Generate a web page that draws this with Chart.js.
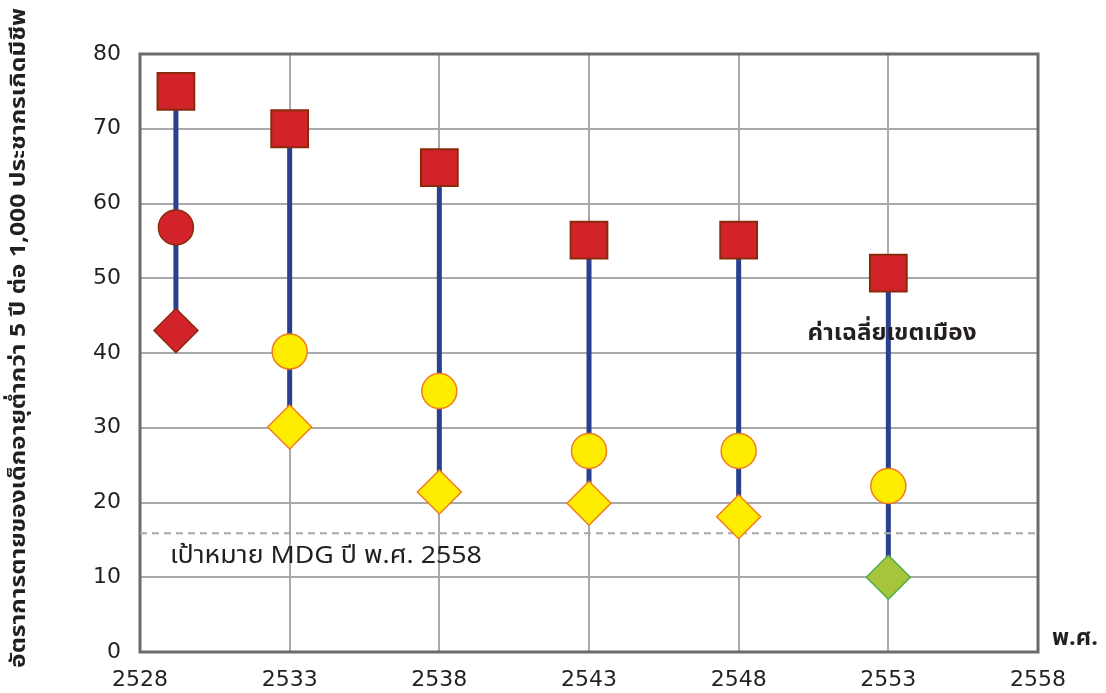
<!DOCTYPE html>
<html>
<head>
<meta charset="utf-8">
<script src="https://cdn.jsdelivr.net/npm/chart.js@4.4.1/dist/chart.umd.min.js"></script>
<style>
html,body{margin:0;padding:0;background:#fff;}
#wrap{width:1106px;height:693px;}
</style>
</head>
<body>
<div id="wrap"><canvas id="c" width="1106" height="693"></canvas></div>
<script>
// ---- data ----
const years = [2529.2, 2533, 2538, 2543, 2548, 2553];
const squareValues = [75, 70, 64.8, 55.1, 55.1, 50.7];
const circleValues = [56.8, 40.2, 34.9, 26.9, 26.9, 22.2];
const diamondValues = [43, 30.1, 21.4, 19.9, 18.1, 10];
const circleColors = ['red','yellow','yellow','yellow','yellow','yellow'];
const diamondColors = ['red','yellow','yellow','yellow','yellow','green'];
const mdgTarget = 15.9;
const xTicks = [2528, 2533, 2538, 2543, 2548, 2553, 2558];
const yTitle = 'อัตราการตายของเด็กอายุต่ำกว่า 5 ปี ต่อ 1,000 ประชากรเกิดมีชีพ';
const mdgLabel = 'เป้าหมาย MDG ปี พ.ศ. 2558';
const urbanLabel = 'ค่าเฉลี่ยเขตเมือง';
const xUnitLabel = 'พ.ศ.';

const palette = {
  red: {fill:'#D2232A', stroke:'#8A2A0C'},
  yellow: {fill:'#FFED00', stroke:'#F07D1E'},
  green: {fill:'#A6C43C', stroke:'#4DAE48'}
};

const pts = (vals) => years.map((x,i)=>({x:x, y:vals[i]}));
const stems = [];
years.forEach((x,i)=>{
  stems.push({x:x, y:squareValues[i]});
  stems.push({x:x, y:diamondValues[i]});
  stems.push({x:x, y:null});
});

const THAI = '"Noto Sans Thai", "Noto Sans", "DejaVu Sans", sans-serif';

// draw text stretched horizontally to a target width
function fitText(ctx, text, font, x, y, width, align){
  ctx.save();
  ctx.font = font;
  const w = ctx.measureText(text).width;
  const k = width / w;
  ctx.translate(x, y);
  ctx.scale(k, 1);
  ctx.textAlign = align || 'left';
  ctx.fillText(text, 0, 0);
  ctx.restore();
}

const annot = {
  id:'annot',
  beforeDatasetsDraw(chart){
    const {ctx, chartArea:a} = chart;
    ctx.save();
    ctx.strokeStyle = '#6B6B6B';
    ctx.lineWidth = 3;
    ctx.strokeRect(a.left, a.top, a.right - a.left, a.bottom - a.top);
    ctx.restore();
  },
  afterDraw(chart){
    const {ctx, scales:{x,y}} = chart;
    ctx.save();
    ctx.fillStyle = '#231F20';
    ctx.textBaseline = 'middle';
    fitText(ctx, mdgLabel, '24px ' + THAI, x.getPixelForValue(2529), y.getPixelForValue(12.6), 312);
    fitText(ctx, urbanLabel, 'bold 23px ' + THAI, x.getPixelForValue(2550.3), y.getPixelForValue(42.3), 169);
    fitText(ctx, xUnitLabel, 'bold 23px ' + THAI, x.right + 14, y.getPixelForValue(1.6), 46);
    // y title (rotated)
    ctx.save();
    ctx.translate(21, 338);
    ctx.rotate(-Math.PI/2);
    fitText(ctx, yTitle, 'bold 21px ' + THAI, 0, 0, 660, 'center');
    ctx.restore();
    ctx.restore();
  }
};

new Chart(document.getElementById('c'), {
  type:'line',
  data:{
    datasets:[
      {
        label:'stems', data: stems, borderColor:'#2A3F8E', borderWidth:5,
        pointRadius:0, spanGaps:false, order:10
      },
      {
        label:'mdg', data:[{x:2528,y:mdgTarget},{x:2558,y:mdgTarget}],
        borderColor:'#A8A8A8', borderWidth:2, borderDash:[7,5], pointRadius:0, order:9
      },
      {
        label:'diamond', data: pts(diamondValues), showLine:false,
        pointStyle:'rectRot', pointRadius:22, pointHoverRadius:22,
        backgroundColor: diamondColors.map(c=>palette[c].fill),
        borderColor: diamondColors.map(c=>palette[c].stroke), borderWidth:1.5, order:2
      },
      {
        label:'circle', data: pts(circleValues), showLine:false,
        pointStyle:'circle', pointRadius:17.5, pointHoverRadius:17.5,
        backgroundColor: circleColors.map(c=>palette[c].fill),
        borderColor: circleColors.map(c=>palette[c].stroke), borderWidth:1.5, order:1
      },
      {
        label:'square', data: pts(squareValues), showLine:false,
        pointStyle:'rect', pointRadius:26, pointHoverRadius:26,
        backgroundColor: palette.red.fill, borderColor: palette.red.stroke, borderWidth:2, order:0
      }
    ]
  },
  options:{
    responsive:false, animation:false,
    layout:{padding:{left:0, top:54, right:68, bottom:0}},
    plugins:{legend:{display:false}, tooltip:{enabled:false}},
    scales:{
      x:{
        type:'linear', min:2528, max:2558,
        afterBuildTicks(s){ s.ticks = xTicks.map(v=>({value:v})); },
        afterFit(s){ s.height = 41; },
        grid:{color:'#A7A9AC', lineWidth:2, drawTicks:false},
        border:{display:false},
        ticks:{padding:15, color:'#231F20', font:{family:'DejaVu Sans', size:22}, callback:v=>String(v)}
      },
      y:{
        min:0, max:80,
        afterFit(s){ s.width = 140; },
        grid:{color:'#A7A9AC', lineWidth:2, drawTicks:false},
        border:{display:false},
        ticks:{stepSize:10, padding:19, color:'#231F20', font:{family:'DejaVu Sans', size:22}}
      }
    }
  },
  plugins:[annot]
});
</script>
</body>
</html>
